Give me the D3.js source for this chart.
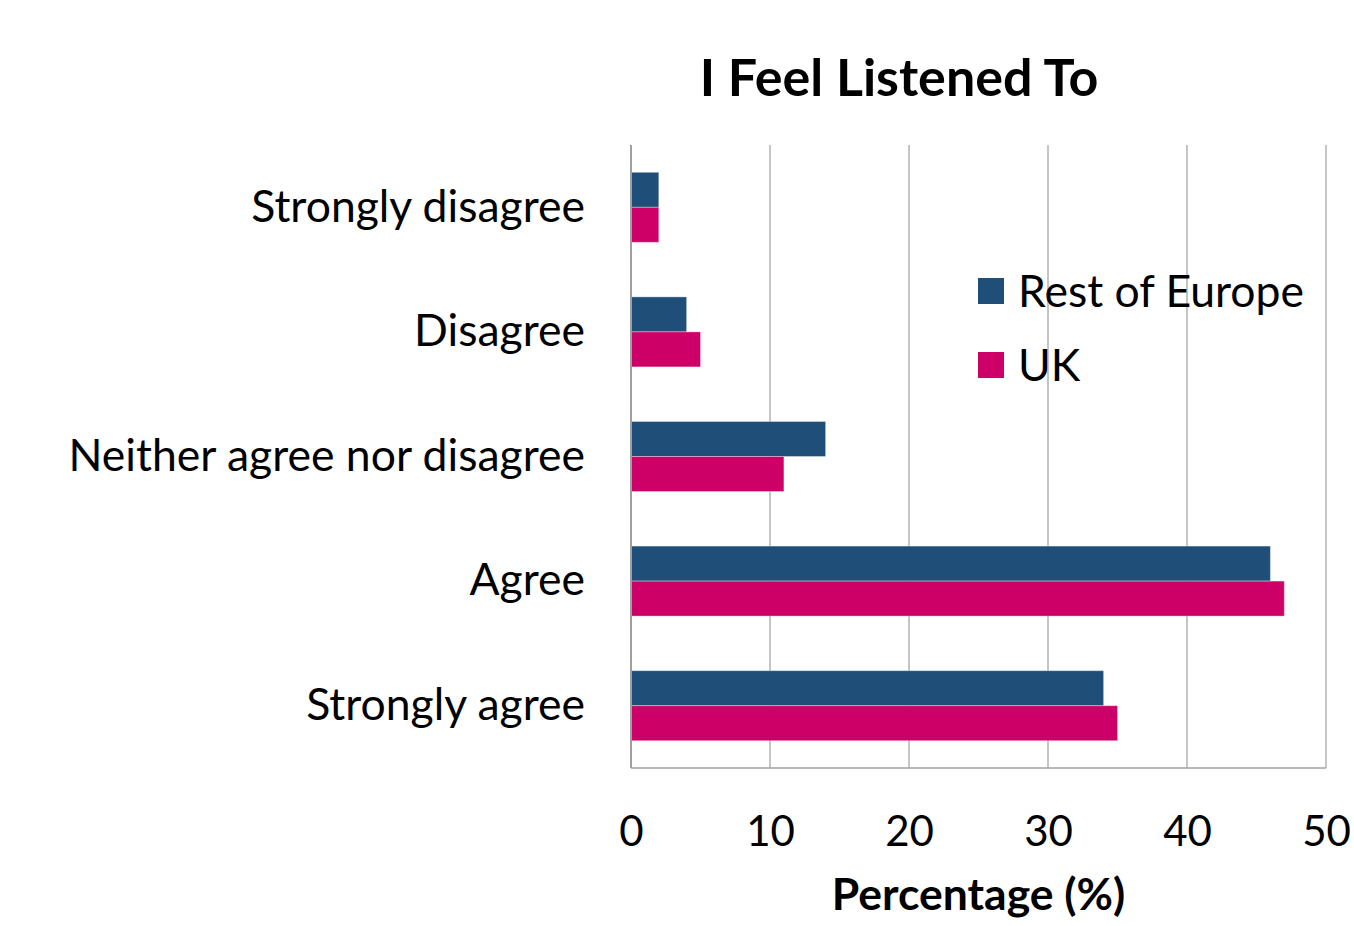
<!DOCTYPE html>
<html>
<head>
<meta charset="utf-8">
<script src="https://cdn.jsdelivr.net/npm/d3@7"></script>
<style>
  html, body { margin: 0; padding: 0; background: #fff; }
  svg text { font-family: Lato, "Open Sans", sans-serif; fill: #000; }
</style>
</head>
<body>
<svg id="chart" width="1354" height="926"></svg>
<script>
// Survey responses: "I Feel Listened To"
const categories = ["Strongly disagree", "Disagree", "Neither agree nor disagree", "Agree", "Strongly agree"];
const seriesNames = ["Rest of Europe", "UK"];
const restOfEurope = [2, 4, 14, 46, 34];
const uk = [2, 5, 11, 47, 35];
const xTicks = [0, 10, 20, 30, 40, 50];
const colors = ["#1f4e79", "#cc0066"];

const svg = d3.select("#chart");
const margin = { left: 631, right: 28, top: 145, bottom: 158 };
const W = 1354, H = 926;
const plotW = W - margin.left - margin.right;
const plotH = H - margin.top - margin.bottom;

const x = d3.scaleLinear().domain([0, 50]).range([0, plotW]);
const y = d3.scaleBand().domain(categories).range([0, plotH]).paddingInner(0.438).paddingOuter(0.219);
const ySub = d3.scaleBand().domain(seriesNames).range([0, y.bandwidth()]);

const g = svg.append("g").attr("transform", `translate(${margin.left},${margin.top})`);

// Vertical gridlines
g.append("g")
  .selectAll("line")
  .data(xTicks.slice(1))
  .join("line")
  .attr("x1", d => x(d)).attr("x2", d => x(d))
  .attr("y1", 0).attr("y2", plotH)
  .attr("stroke", "#a6a6a6").attr("stroke-width", 1.3);

// Bars
const rows = categories.map((c, i) => ({ cat: c, values: [restOfEurope[i], uk[i]] }));
const grp = g.selectAll("g.cat").data(rows).join("g")
  .attr("class", "cat")
  .attr("transform", d => `translate(0,${y(d.cat)})`);
grp.selectAll("rect")
  .data(d => d.values.map((v, j) => ({ name: seriesNames[j], v, j })))
  .join("rect")
  .attr("x", 0)
  .attr("y", d => ySub(d.name))
  .attr("width", d => x(d.v))
  .attr("height", ySub.bandwidth())
  .attr("fill", d => colors[d.j])
  .attr("stroke", "rgba(255,255,255,0.35)")
  .attr("stroke-width", 1);

// Axis lines (left and bottom)
g.append("line").attr("x1", 0).attr("x2", 0).attr("y1", 0).attr("y2", plotH)
  .attr("stroke", "#a0a0a0").attr("stroke-width", 2);
g.append("line").attr("x1", 0).attr("x2", plotW).attr("y1", plotH).attr("y2", plotH)
  .attr("stroke", "#a0a0a0").attr("stroke-width", 1.3);

// X axis tick labels
const xAxis = d3.axisBottom(x).tickValues(xTicks).tickSize(0).tickPadding(48);
const xa = g.append("g").attr("transform", `translate(0,${plotH})`).call(xAxis);
xa.select(".domain").remove();
xa.selectAll("text").style("font-size", "42px").style("font-family", "Lato, sans-serif").attr("fill", "#000");

// Category labels
const ya = g.append("g").call(d3.axisLeft(y).tickSize(0).tickPadding(46));
ya.select(".domain").remove();
ya.selectAll("text").style("font-size", "44.5px").style("font-family", "Lato, sans-serif").attr("fill", "#000");

// Title
svg.append("text").attr("x", 899).attr("y", 96).attr("text-anchor", "middle")
  .style("font-size", "52px").style("font-weight", "bold").text("I Feel Listened To");

// Axis title
svg.append("text").attr("x", margin.left + x(25)).attr("y", 910).attr("text-anchor", "middle")
  .style("font-size", "44.5px").style("font-weight", "bold").text("Percentage (%)");

// Legend
const legend = svg.append("g").attr("transform", "translate(978,278)");
seriesNames.forEach((n, i) => {
  const row = legend.append("g").attr("transform", `translate(0,${i * 74})`);
  row.append("rect").attr("width", 26).attr("height", 26).attr("fill", colors[i]);
  row.append("text").attr("x", 40).attr("y", 13).attr("dy", "0.35em")
    .style("font-size", "44.5px").text(n);
});
</script>
</body>
</html>
